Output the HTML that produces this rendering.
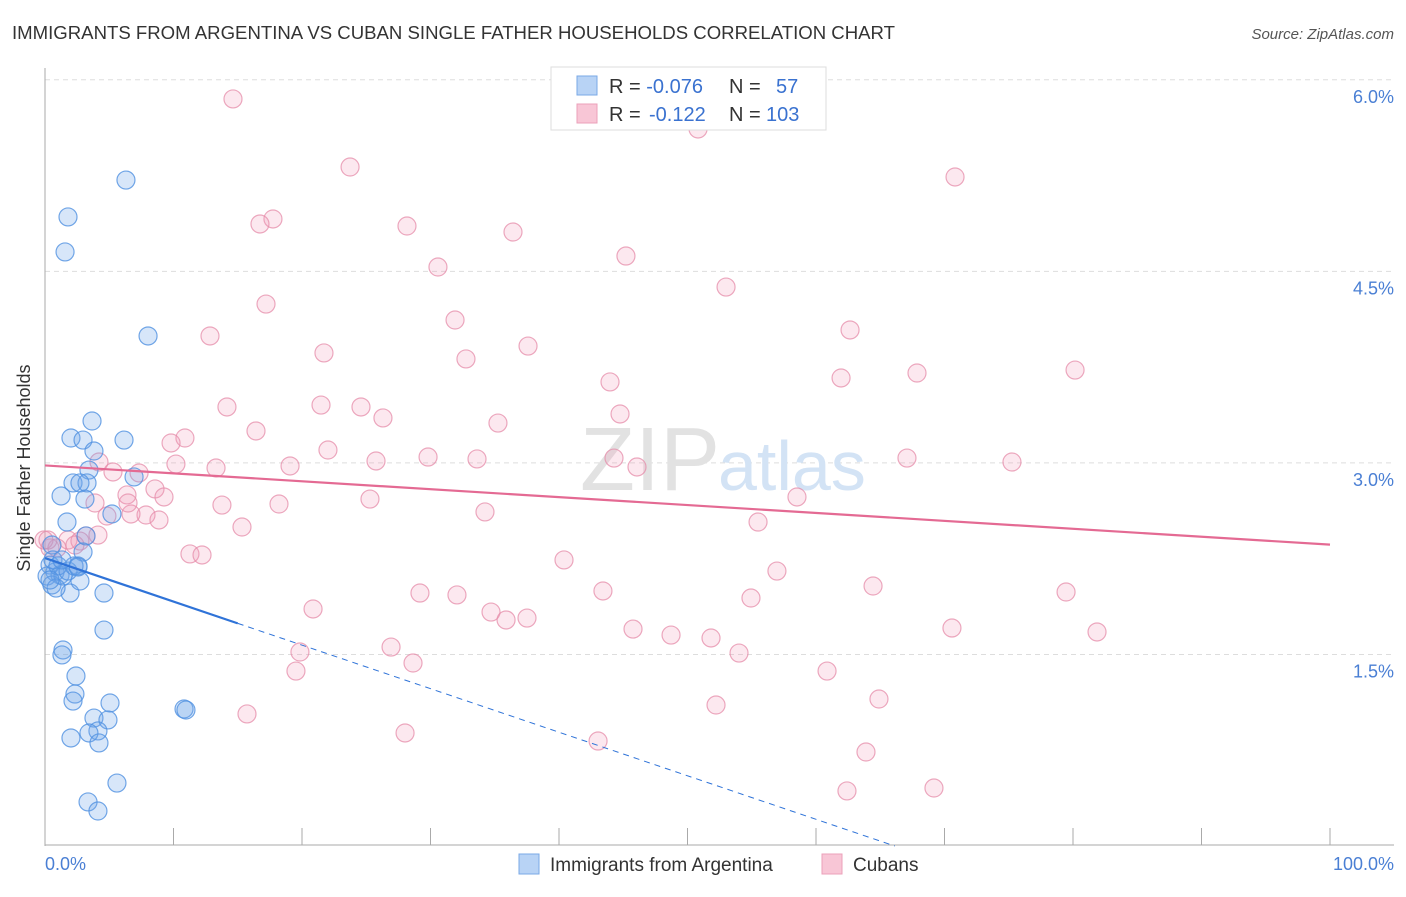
<!DOCTYPE html>
<html><head><meta charset="utf-8"><style>
body{margin:0;background:#fff;font-family:"Liberation Sans",sans-serif}
svg text{font-family:"Liberation Sans",sans-serif}
</style></head><body>
<svg width="1406" height="892" xmlns="http://www.w3.org/2000/svg">
<text x="12" y="39" font-size="18" fill="#333" textLength="883" lengthAdjust="spacingAndGlyphs">IMMIGRANTS FROM ARGENTINA VS CUBAN SINGLE FATHER HOUSEHOLDS CORRELATION CHART</text>
<text x="1394" y="39" font-size="15" fill="#555" font-style="italic" text-anchor="end">Source: ZipAtlas.com</text>
<g id="grid"></g>
<text x="720" y="490" font-size="90" fill="#e2e2e2" text-anchor="end" font-family="Liberation Serif">ZIP</text>
<text x="718" y="490" font-size="70" fill="#d3e3f5">atlas</text>
<g id="ticks"></g>
<g id="pts"></g>
<g id="trend"></g>
<text x="18" y="456" font-size="18" fill="#333" transform="rotate(-90 30 456)" text-anchor="middle">Single Father Households</text>
<text x="45" y="870" font-size="18" fill="#4a7fd4">0.0%</text>
<text x="1394" y="870" font-size="18" fill="#4a7fd4" text-anchor="end">100.0%</text>
<g>
<rect x="551" y="67" width="275" height="63" fill="#fff" stroke="#ddd"/>
<rect x="577" y="76" width="20" height="19" fill="#b8d3f5" stroke="#7aa8e6"/>
<rect x="577" y="104" width="20" height="19" fill="#f8c6d6" stroke="#eba0ba"/>
<text x="609" y="93" font-size="20" fill="#333">R = <tspan fill="#3a72d0">-0.076</tspan><tspan x="729">N =</tspan><tspan x="776" fill="#3a72d0">57</tspan></text>
<text x="609" y="121" font-size="20" fill="#333">R = <tspan x="649" fill="#3a72d0">-0.122</tspan><tspan x="729">N =</tspan><tspan x="766" fill="#3a72d0">103</tspan></text>
</g>
<g>
<rect x="519" y="854" width="20" height="20" fill="#b8d3f5" stroke="#7aa8e6"/>
<text x="550" y="871" font-size="19" fill="#333">Immigrants from Argentina</text>
<rect x="822" y="854" width="20" height="20" fill="#f8c6d6" stroke="#eba0ba"/>
<text x="853" y="871" font-size="19" fill="#333">Cubans</text>
</g>
</svg>
<script>
const yTicks=[1.5,3.0,4.5,6.0];
const yTickLabels=["1.5%","3.0%","4.5%","6.0%"];
const xTicks=[0,10,20,30,40,50,60,70,80,90,100];
const bluePx=[[126,180],[68,217],[65,252],[148,336],[92,421],[71,438],[83,440],[124,440],[94,451],[89,470],[134,477],[73,483],[87,483],[80,483],[61,496],[85,499],[112,514],[67,522],[86,536],[83,552],[78,566],[52,545],[50,565],[55,572],[60,575],[47,576],[52,585],[70,593],[80,581],[104,593],[104,630],[63,650],[62,655],[76,676],[75,694],[73,701],[110,703],[94,718],[108,720],[98,731],[89,733],[71,738],[99,743],[117,783],[88,802],[98,811],[184,709],[186,710],[63,576],[58,566],[53,560],[68,571],[74,566],[56,588],[50,580],[62,560],[78,567]];
const pinkPx=[[233,99],[350,167],[698,129],[955,177],[273,219],[260,224],[407,226],[513,232],[626,256],[438,267],[726,287],[266,304],[210,336],[455,320],[850,330],[528,346],[324,353],[466,359],[841,378],[917,373],[1075,370],[610,382],[227,407],[321,405],[361,407],[383,418],[620,414],[498,423],[256,431],[185,438],[171,443],[328,450],[290,466],[376,461],[428,457],[477,459],[614,458],[637,467],[907,458],[1012,462],[176,464],[216,468],[139,473],[99,462],[113,472],[155,489],[127,495],[164,497],[222,505],[279,504],[370,499],[797,497],[95,503],[107,516],[146,515],[159,520],[131,514],[242,527],[485,512],[758,522],[86,536],[68,540],[80,541],[57,548],[50,548],[190,554],[202,555],[564,560],[777,571],[420,593],[457,595],[603,591],[751,598],[873,586],[1066,592],[313,609],[491,612],[506,620],[527,618],[633,629],[671,635],[711,638],[952,628],[1097,632],[391,647],[300,652],[739,653],[413,663],[296,671],[827,671],[879,699],[716,705],[247,714],[405,733],[598,741],[866,752],[847,791],[934,788],[44,540],[75,545],[98,535],[128,503],[48,540]];
const blueX=bluePx.map(p=>+((p[0]-45)/12.85).toFixed(2));
const blueY=bluePx.map(p=>+((846-p[1])/127.7).toFixed(3));
const pinkX=pinkPx.map(p=>+((p[0]-45)/12.85).toFixed(2));
const pinkY=pinkPx.map(p=>+((846-p[1])/127.7).toFixed(3));
const blueTrend=[2.255,-1.155];
const pinkTrend=[2.98,2.36];
const sx=v=>45+v*12.85, sy=v=>846-v*127.7;
const NS="http://www.w3.org/2000/svg";
function mk(t,a,p){const e=document.createElementNS(NS,t);for(const k in a)e.setAttribute(k,a[k]);p.appendChild(e);return e;}
const grid=document.getElementById('grid'),ticks=document.getElementById('ticks'),pts=document.getElementById('pts'),tr=document.getElementById('trend');
yTicks.forEach((v,i)=>{
 const l=mk('line',{x1:45,x2:1394,y1:sy(v),y2:sy(v),stroke:'#ddd','stroke-dasharray':'5,4'},grid);
 
 
 const t=mk('text',{x:1394,y:sy(v)+23,'font-size':18,fill:'#4a7fd4','text-anchor':'end'},grid);
 t.textContent=yTickLabels[i];
 
 
});
mk('line',{x1:45,x2:45,y1:68,y2:846,stroke:'#aaa'},ticks);
mk('line',{x1:45,x2:1394,y1:845,y2:845,stroke:'#aaa'},ticks);
xTicks.forEach(v=>{
 const l=mk('line',{x1:sx(v),x2:sx(v),y1:828,y2:845,stroke:'#aaa'},ticks);
 
 
});
pinkX.forEach((x,i)=>{
 const c=mk('circle',{cx:sx(x),cy:sy(pinkY[i]),r:9,fill:'rgba(240,150,180,0.22)',stroke:'rgba(230,140,170,0.75)','stroke-width':1.2},pts);
 
 
});
blueX.forEach((x,i)=>{
 const c=mk('circle',{cx:sx(x),cy:sy(blueY[i]),r:9,fill:'rgba(110,165,235,0.28)',stroke:'rgba(80,145,225,0.8)','stroke-width':1.2},pts);
 
 
});
const pl=mk('line',{x1:sx(0),y1:sy(pinkTrend[0]),x2:sx(100),y2:sy(pinkTrend[1]),stroke:'#e46a93','stroke-width':2.2},tr);


const by=x=>blueTrend[0]+(blueTrend[1]-blueTrend[0])*x/100;
const xz=100*blueTrend[0]/(blueTrend[0]-blueTrend[1]);
const bl=mk('line',{x1:sx(0),y1:sy(by(0)),x2:sx(15),y2:sy(by(15)),stroke:'#2f73d8','stroke-width':2.2},tr);


const bd=mk('line',{x1:sx(15),y1:sy(by(15)),x2:sx(xz),y2:sy(0),stroke:'#2f73d8','stroke-width':1,'stroke-dasharray':'6,5'},tr);


</script>
</body></html>
